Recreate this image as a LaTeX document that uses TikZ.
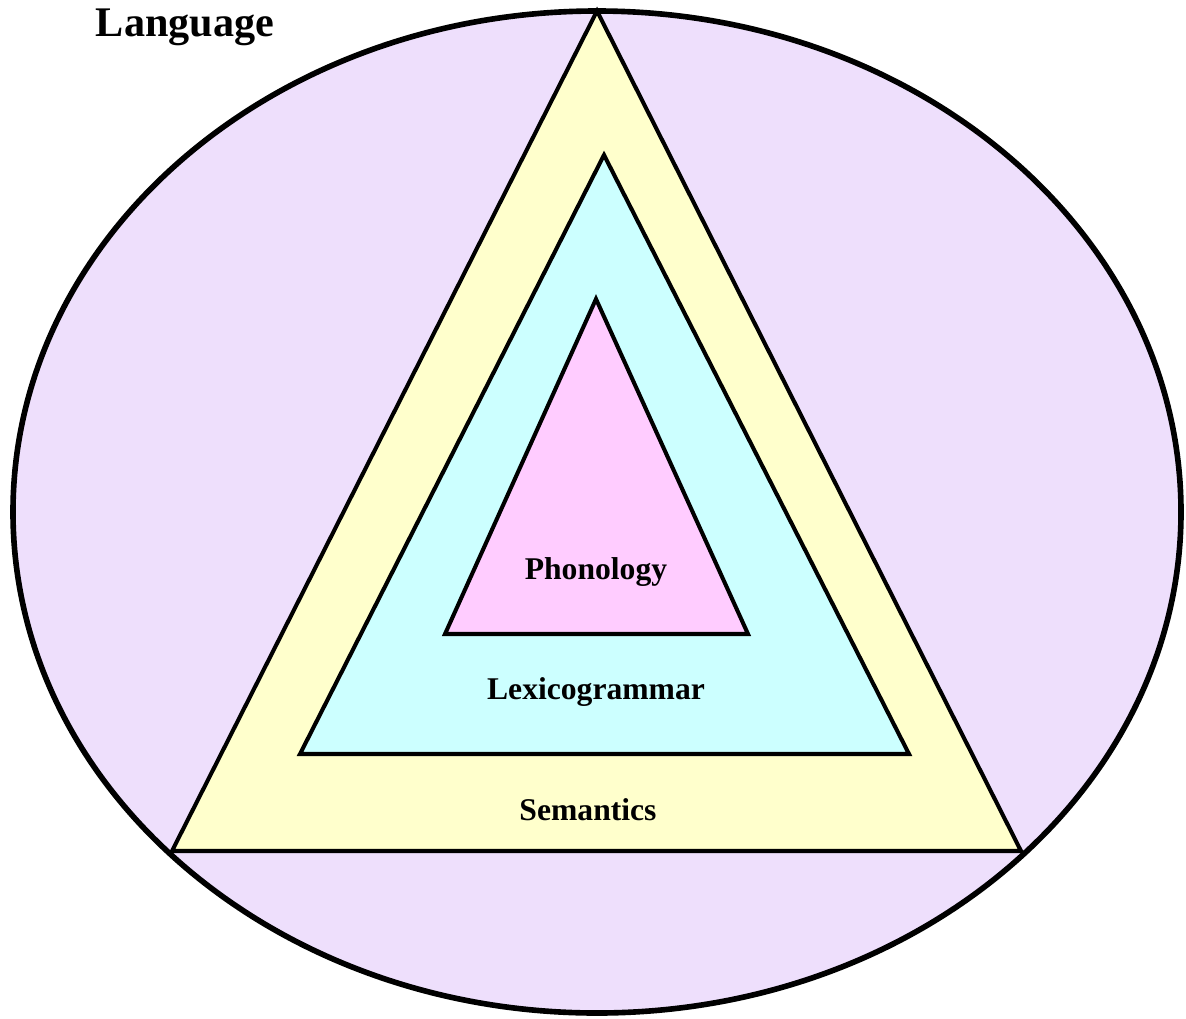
\documentclass[tikz,border=0pt]{standalone}
\usepackage{fontspec}
\setmainfont{Liberation Serif}
\usepackage{tikz}
\usetikzlibrary{calc}

\definecolor{lavender}{HTML}{EEDFFC}
\definecolor{paleyellow}{HTML}{FFFFCC}
\definecolor{palecyan}{HTML}{CCFFFF}
\definecolor{palepink}{HTML}{FFCCFF}

\tikzset{
    tri/.style={draw=black, line width=2.3pt, line join=miter},
    lbl/.style={font=\fontsize{18}{20}\selectfont\bfseries}
}

\begin{document}
\begin{tikzpicture}[x=0.02cm, y=-0.02cm]

\useasboundingbox (0,0) rectangle (1186,1018);

% Language ellipse
\draw[fill=lavender, line width=3.2pt] (597,512) ellipse [x radius=584, y radius=501];
\node[font=\fontsize{24}{28}\selectfont\bfseries] (language) at (185,27) {Language};

% Outer triangle
\draw[tri, fill=paleyellow] (597,11) -- (1021,851) -- (172,851) -- cycle;
\node[lbl] (semantics) at (588,810) {Semantics};

% Middle triangle
\draw[tri, fill=palecyan] (604,155) -- (909,754) -- (300,754) -- cycle;
\node[lbl] (lexico) at (596,692) {Lexicogrammar};

% Inner triangle
\draw[tri, fill=palepink] (596,299) -- (748,634) -- (445,634) -- cycle;
\node[lbl] (phonology) at (596,572) {Phonology};

\end{tikzpicture}
\end{document}
